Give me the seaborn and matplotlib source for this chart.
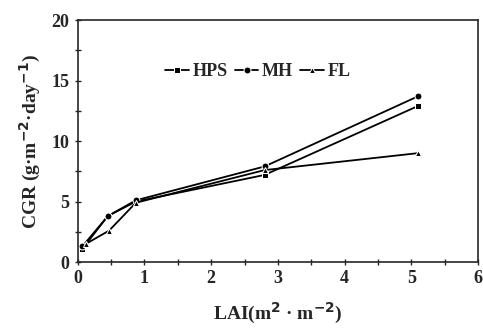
import matplotlib
matplotlib.use("Agg")
import matplotlib.pyplot as plt
import seaborn as sns
import pandas as pd
from matplotlib.ticker import MultipleLocator

lai_hps = [0.07, 0.45, 0.87, 2.8, 5.1]
cgr_hps = [1.1, 3.8, 5.0, 7.2, 12.9]
lai_mh = [0.07, 0.45, 0.87, 2.8, 5.1]
cgr_mh = [1.3, 3.8, 5.1, 7.9, 13.7]
lai_fl = [0.12, 0.47, 0.87, 2.8, 5.1]
cgr_fl = [1.5, 2.6, 4.9, 7.6, 9.0]

series = ["HPS", "MH", "FL"]
frames = []
for name, xs, ys in [("HPS", lai_hps, cgr_hps), ("MH", lai_mh, cgr_mh), ("FL", lai_fl, cgr_fl)]:
    frames.append(pd.DataFrame({"LAI": xs, "CGR": ys, "Lamp": name}))
df = pd.concat(frames, ignore_index=True)

sns.set_style("ticks")
plt.rcParams['font.family'] = ['Liberation Serif', 'DejaVu Serif']
plt.rcParams['font.weight'] = 'bold'
plt.rcParams['mathtext.default'] = 'bf'

fig = plt.figure(figsize=(4.83, 3.28), dpi=100)
ax = fig.add_axes([0.161, 0.201, 0.829, 0.738])

sns.lineplot(data=df, x="LAI", y="CGR", hue="Lamp", style="Lamp",
             hue_order=series, style_order=series,
             palette=["black", "black", "black"],
             markers={"HPS": "s", "MH": "o", "FL": "^"},
             dashes=False, markersize=5, linewidth=1.3,
             sort=False, ax=ax, legend=True)

ax.set_xlim(0, 6)
ax.set_ylim(0, 20)
ax.xaxis.set_major_locator(MultipleLocator(1))
ax.xaxis.set_minor_locator(MultipleLocator(0.5))
ax.yaxis.set_major_locator(MultipleLocator(5))
ax.yaxis.set_minor_locator(MultipleLocator(2.5))
ax.tick_params(which='both', direction='inout', length=5, width=1, labelsize=13)
for t in ax.xaxis.get_major_ticks() + ax.yaxis.get_major_ticks():
    t.label1.set_fontweight('bold')
for s in ax.spines.values():
    s.set_linewidth(1.2)
    s.set_visible(True)

ax.set_xlabel("LAI(m$^{2}$ · m$^{-2}$)", fontsize=14, fontweight='bold', labelpad=10)
ax.set_ylabel("CGR (g·m$^{-2}$·day$^{-1}$)", fontsize=14, fontweight='bold', labelpad=6)

leg = ax.legend(loc='upper center', bbox_to_anchor=(0.45, 0.89), ncol=3, frameon=False,
                handlelength=1.3, handletextpad=0.2, columnspacing=0.4,
                prop={'weight': 'bold', 'size': 13})

fig.savefig("out.png", dpi=100)
